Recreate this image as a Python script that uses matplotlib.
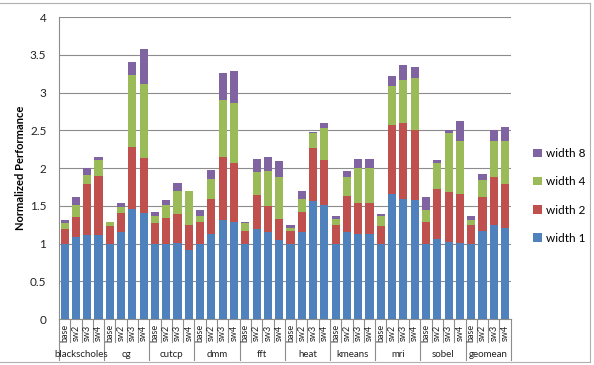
import matplotlib
matplotlib.use("Agg")
import matplotlib.pyplot as plt
import matplotlib.transforms as mtransforms
import numpy as np

plt.rcParams["font.family"] = ["Lato", "DejaVu Sans"]

groups = ["blackscholes", "cg", "cutcp", "dmm", "fft", "heat", "kmeans", "mri", "sobel", "geomean"]
variants = ["base", "sw2", "sw3", "sw4"]

# cumulative heights (top of each segment)
top_w1 = [1.00, 1.09, 1.11, 1.11, 1.00, 1.15, 1.46, 1.41, 1.00, 1.00, 1.01, 0.92,
          1.00, 1.13, 1.31, 1.29, 1.00, 1.19, 1.15, 1.04, 1.00, 1.15, 1.56, 1.51,
          1.00, 1.15, 1.13, 1.13, 1.00, 1.66, 1.59, 1.57, 1.00, 1.06, 1.02, 1.01,
          1.00, 1.17, 1.25, 1.21]
top_w2 = [1.19, 1.35, 1.79, 1.89, 1.23, 1.41, 2.28, 2.13, 1.27, 1.34, 1.39, 1.24,
          1.28, 1.59, 2.14, 2.07, 1.17, 1.64, 1.50, 1.33, 1.17, 1.42, 2.27, 2.11,
          1.25, 1.63, 1.54, 1.54, 1.23, 2.57, 2.60, 2.51, 1.29, 1.72, 1.68, 1.65,
          1.24, 1.61, 1.88, 1.79]
top_w4 = [1.27, 1.51, 1.91, 2.10, 1.28, 1.48, 3.23, 3.11, 1.36, 1.51, 1.70, 1.70,
          1.37, 1.85, 2.90, 2.86, 1.27, 1.95, 1.96, 1.88, 1.20, 1.59, 2.46, 2.53,
          1.32, 1.88, 2.00, 2.00, 1.37, 3.08, 3.17, 3.19, 1.44, 2.06, 2.46, 2.36,
          1.31, 1.84, 2.36, 2.36]
top_w8 = [1.31, 1.61, 2.00, 2.15, 1.29, 1.53, 3.40, 3.57, 1.42, 1.58, 1.80, 1.70,
          1.44, 1.97, 3.26, 3.29, 1.28, 2.12, 2.14, 2.09, 1.24, 1.70, 2.48, 2.59,
          1.36, 1.96, 2.12, 2.12, 1.39, 3.22, 3.36, 3.34, 1.62, 2.10, 2.51, 2.62,
          1.36, 1.92, 2.50, 2.54]

colors = {"width 1": "#4F81BD", "width 2": "#C0504D", "width 4": "#9BBB59", "width 8": "#8064A2"}

w1 = np.array(top_w1)
w2 = np.array(top_w2) - w1
w4 = np.array(top_w4) - np.array(top_w2)
w8 = np.array(top_w8) - np.array(top_w4)

fig = plt.figure(figsize=(5.94, 3.65), dpi=100)
ax = fig.add_axes([0.0992, 0.126, 0.7606, 0.8274])

x = np.arange(len(w1))
bw = 0.72
b1 = ax.bar(x, w1, bw, color=colors["width 1"], label="width 1", zorder=3)
b2 = ax.bar(x, w2, bw, bottom=w1, color=colors["width 2"], label="width 2", zorder=3)
b4 = ax.bar(x, w4, bw, bottom=w1 + w2, color=colors["width 4"], label="width 4", zorder=3)
b8 = ax.bar(x, w8, bw, bottom=w1 + w2 + w4, color=colors["width 8"], label="width 8", zorder=3)

ax.set_xlim(-0.5, len(w1) - 0.5)
ax.set_ylim(0, 4)
ax.set_yticks(np.arange(0, 4.01, 0.5))
ax.set_yticklabels(["0", "0.5", "1", "1.5", "2", "2.5", "3", "3.5", "4"])
ax.yaxis.grid(True, color="#8c8c8c", linewidth=0.8, zorder=0)
ax.tick_params(axis="y", length=0, labelsize=8.5, pad=9, colors="#222222")
ax.set_xticks([])
for s in ["top", "right"]:
    ax.spines[s].set_visible(False)
ax.spines["left"].set_color("#8c8c8c")
ax.spines["bottom"].set_color("#8c8c8c")
ax.set_ylabel("Normalized Performance", fontsize=8, fontweight="bold", labelpad=3)

# two-level category axis
trans = mtransforms.blended_transform_factory(ax.transData, ax.transAxes)
for i in range(len(w1) + 1):
    bound = i - 0.5
    y_end = -0.136 if i % 4 == 0 else -0.076
    ax.plot([bound, bound], [0, y_end], transform=trans, color="#8c8c8c",
            linewidth=0.8, clip_on=False)
for i in range(len(w1)):
    ax.text(i, -0.046, variants[i % 4], transform=trans, rotation=90,
            ha="center", va="center", fontsize=6.5, color="#222222")
for g, name in enumerate(groups):
    ax.text(g * 4 + 1.5, -0.118, name, transform=trans, ha="center", va="center",
            fontsize=7, color="#222222")

# outer chart border
for xs, ys in [([0.0, 0.993], [0.991, 0.991]), ([0.993, 0.993], [0.991, 0.008]),
               ([0.0, 0.993], [0.008, 0.008])]:
    fig.add_artist(plt.Line2D(xs, ys, transform=fig.transFigure, color="#b0b0b0", linewidth=0.8))

fig.legend(handles=[b8, b4, b2, b1], loc="center left", bbox_to_anchor=(0.88, 0.463),
           frameon=False, fontsize=8.5, handlelength=0.7, handleheight=0.7,
           handletextpad=0.4, labelspacing=1.45)

fig.savefig("out.png", dpi=100)
